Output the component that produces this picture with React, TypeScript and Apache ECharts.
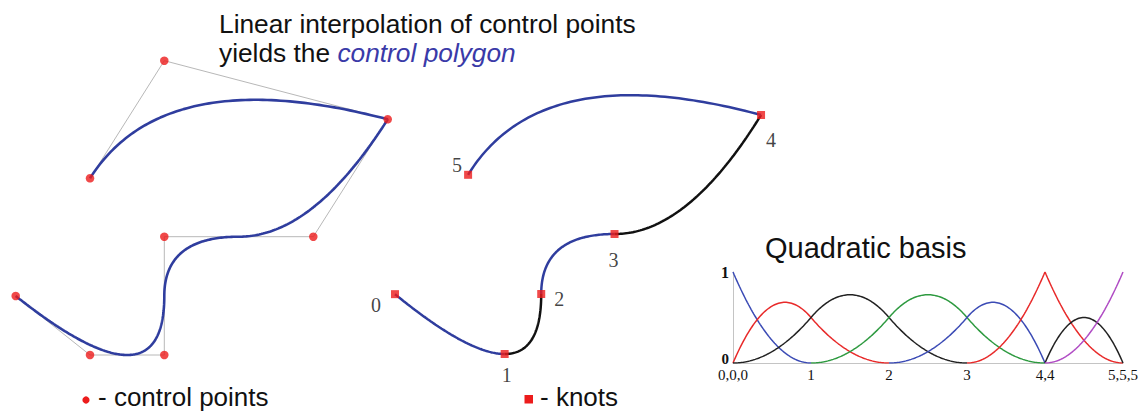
import React, { useEffect, useRef } from "react";
import * as echarts from "echarts";

// Control points of the quadratic B-spline (left picture coordinates)
const controlX = [15.7, 90, 164.3, 164.3, 313.3, 387.7, 164.3, 90];
const controlY = [296, 355, 355, 236.7, 236.7, 119.3, 60.7, 178.3];
// Knot vector and distinct knot values
const knotVector = [0, 0, 0, 1, 2, 3, 4, 4, 5, 5, 5];
const knotValues = [0, 1, 2, 3, 4, 5];
const knotLabels = ["0", "1", "2", "3", "4", "5"];
const basisTickLabels = ["0,0,0", "1", "2", "3", "4,4", "5,5,5"];
const basisYLabels = ["0", "1"];
const degree = 2;

// styles
const knotLabelOffsets = [[-19, 11], [2, 21], [18, 5], [-1, 26], [10, 25], [-11, -10]];
const segmentColors = ["#2f3d9e", "#111111", "#2f3d9e", "#111111", "#2f3d9e"];
const basisColors = ["#3b4bb5", "#e82a2a", "#222222", "#2e9a40", "#3b4bb5", "#e82a2a", "#222222", "#b04cc4"];
const CURVE_BLUE = "#2f3d9e";
const RED = "#ec1c1c";
const SANS = '"Liberation Sans", Arial, sans-serif';
const SERIF = '"Liberation Serif", "Times New Roman", serif';

function basis(i: number, p: number, u: number, t: number[]): number {
  if (p === 0) return t[i] <= u && u < t[i + 1] ? 1 : 0;
  let a = 0;
  let b = 0;
  const d1 = t[i + p] - t[i];
  if (d1 > 0) a = ((u - t[i]) / d1) * basis(i, p - 1, u, t);
  const d2 = t[i + p + 1] - t[i + 1];
  if (d2 > 0) b = ((t[i + p + 1] - u) / d2) * basis(i + 1, p - 1, u, t);
  return a + b;
}

function N(i: number, u: number): number {
  const uMax = knotVector[knotVector.length - 1];
  const uu = u >= uMax ? uMax - 1e-9 : u;
  return basis(i, degree, uu, knotVector);
}

function curvePoint(u: number): [number, number] {
  let x = 0;
  let y = 0;
  for (let i = 0; i < controlX.length; i++) {
    const w = N(i, u);
    x += w * controlX[i];
    y += w * controlY[i];
  }
  return [x, y];
}

function samples(a: number, b: number, n: number): number[] {
  const out: number[] = [];
  for (let k = 0; k <= n; k++) out.push(a + ((b - a) * k) / n);
  return out;
}

function textEl(x: number, y: number, text: string, size: number, extra: any = {}) {
  return {
    type: "text",
    x,
    y,
    style: {
      text,
      font: `${size}px ${SANS}`,
      fill: "#111111",
      lineHeight: size,
      textVerticalAlign: "middle",
      verticalAlign: "middle",
      ...extra,
    },
  };
}

export default function App() {
  const ref = useRef<HTMLDivElement>(null);

  useEffect(() => {
    document.body.style.margin = "0";
    if (!ref.current) return;
    const chart = echarts.init(ref.current, undefined, { renderer: "svg" });

    const polygon = controlX.map((x, i) => [x, controlY[i]]);
    const leftCurve = samples(0, 5, 400).map((u) => curvePoint(u));

    const segSeries = segmentColors.map((c, s) => ({
      type: "line",
      xAxisIndex: 1,
      yAxisIndex: 1,
      data: samples(knotValues[s], knotValues[s + 1], 80).map((u) => curvePoint(u)),
      showSymbol: false,
      symbol: "none",
      silent: true,
      lineStyle: { color: c, width: 2.5 },
      z: 2,
    }));

    const knotData = knotValues.map((u, k) => ({
      value: curvePoint(u),
      label: { offset: knotLabelOffsets[k] },
    }));

    const basisSeries = basisColors.map((c, i) => {
      const a = knotVector[i];
      const b = knotVector[i + degree + 1];
      return {
        type: "line",
        xAxisIndex: 2,
        yAxisIndex: 2,
        data: samples(a, b, Math.round((b - a) * 60)).map((u) => [u, N(i, u)]),
        showSymbol: false,
        symbol: "none",
        silent: true,
        lineStyle: { color: c, width: 1.5 },
        z: 2,
      };
    });

    const hiddenAxis = { show: false };

    chart.setOption({
      animation: false,
      backgroundColor: "#ffffff",
      grid: [
        { left: 0, top: 0, width: 1140, height: 412, outerBoundsMode: "none" },
        { left: 0, top: 0, width: 1140, height: 412, outerBoundsMode: "none" },
        { left: 733, top: 272, width: 390, height: 91, outerBoundsMode: "none" },
      ],
      xAxis: [
        { type: "value", gridIndex: 0, min: 0, max: 1140, ...hiddenAxis },
        { type: "value", gridIndex: 1, min: -385.7, max: 772.8, ...hiddenAxis },
        {
          type: "value",
          gridIndex: 2,
          min: 0,
          max: 5,
          interval: 1,
          axisLine: { show: true, lineStyle: { color: "#c4c4c4", width: 1 } },
          axisTick: { show: false },
          splitLine: { show: false },
          axisLabel: {
            margin: 6,
            color: "#111",
            fontFamily: SERIF,
            fontSize: 15,
            lineHeight: 11,
            formatter: (v: number) => basisTickLabels[Math.round(v)],
          },
        },
      ],
      yAxis: [
        { type: "value", gridIndex: 0, min: 0, max: 412, inverse: true, ...hiddenAxis },
        { type: "value", gridIndex: 1, min: 5.92, max: 412.2, inverse: true, ...hiddenAxis },
        {
          type: "value",
          gridIndex: 2,
          min: 0,
          max: 1,
          interval: 1,
          axisLine: { show: true, lineStyle: { color: "#c4c4c4", width: 1 } },
          axisTick: { show: false },
          splitLine: { show: false },
          axisLabel: {
            margin: 4,
            color: "#111",
            fontFamily: SERIF,
            fontSize: 16,
            fontWeight: "bold",
            formatter: (v: number) =>
              Math.round(v) === 0 ? `{z|${basisYLabels[0]}}` : basisYLabels[Math.round(v)],
            rich: {
              z: {
                fontFamily: SERIF,
                fontSize: 15,
                fontWeight: "bold",
                color: "#111",
                lineHeight: 11,
                padding: [0, 0, 9, 0],
              },
            },
          },
        },
      ],
      series: [
        {
          type: "line",
          xAxisIndex: 0,
          yAxisIndex: 0,
          data: polygon,
          showSymbol: false,
          symbol: "none",
          silent: true,
          lineStyle: { color: "#b8b8b8", width: 1 },
          z: 1,
        },
        {
          type: "line",
          xAxisIndex: 0,
          yAxisIndex: 0,
          data: leftCurve,
          showSymbol: false,
          symbol: "none",
          silent: true,
          lineStyle: { color: CURVE_BLUE, width: 2.6 },
          z: 2,
        },
        {
          type: "scatter",
          xAxisIndex: 0,
          yAxisIndex: 0,
          data: polygon,
          symbol: "circle",
          symbolSize: 8.5,
          silent: true,
          itemStyle: { color: RED },
          z: 3,
        },
        ...segSeries,
        {
          type: "scatter",
          xAxisIndex: 1,
          yAxisIndex: 1,
          data: knotData,
          symbol: "rect",
          symbolSize: 8,
          silent: true,
          itemStyle: { color: RED },
          label: {
            show: true,
            position: "inside",
            color: "#111",
            fontFamily: SERIF,
            fontSize: 20,
            formatter: (p: any) => knotLabels[p.dataIndex],
          },
          z: 3,
        },
        ...basisSeries,
      ],
      graphic: [
        textEl(219, 24, "Linear interpolation of control points", 26.3),
        textEl(219, 53, "yields the {it|control polygon}", 26.3, {
          rich: {
            it: {
              fontStyle: "italic",
              fontSize: 26.3,
              fontFamily: SANS,
              lineHeight: 26.3,
              fill: "#3a3aa8",
              color: "#3a3aa8",
            },
          },
        }),
        textEl(765, 248, "Quadratic basis", 29),
        {
          type: "circle",
          shape: { cx: 86, cy: 400, r: 3.6 },
          style: { fill: RED },
        },
        textEl(98, 397, "- control points", 26),
        {
          type: "rect",
          shape: { x: 524.5, y: 395, width: 8.5, height: 8.5 },
          style: { fill: RED },
        },
        textEl(540, 397, "- knots", 26),
      ],
    });

    return () => {
      chart.dispose();
    };
  }, []);

  return <div ref={ref} style={{ width: 1140, height: 412 }} />;
}
